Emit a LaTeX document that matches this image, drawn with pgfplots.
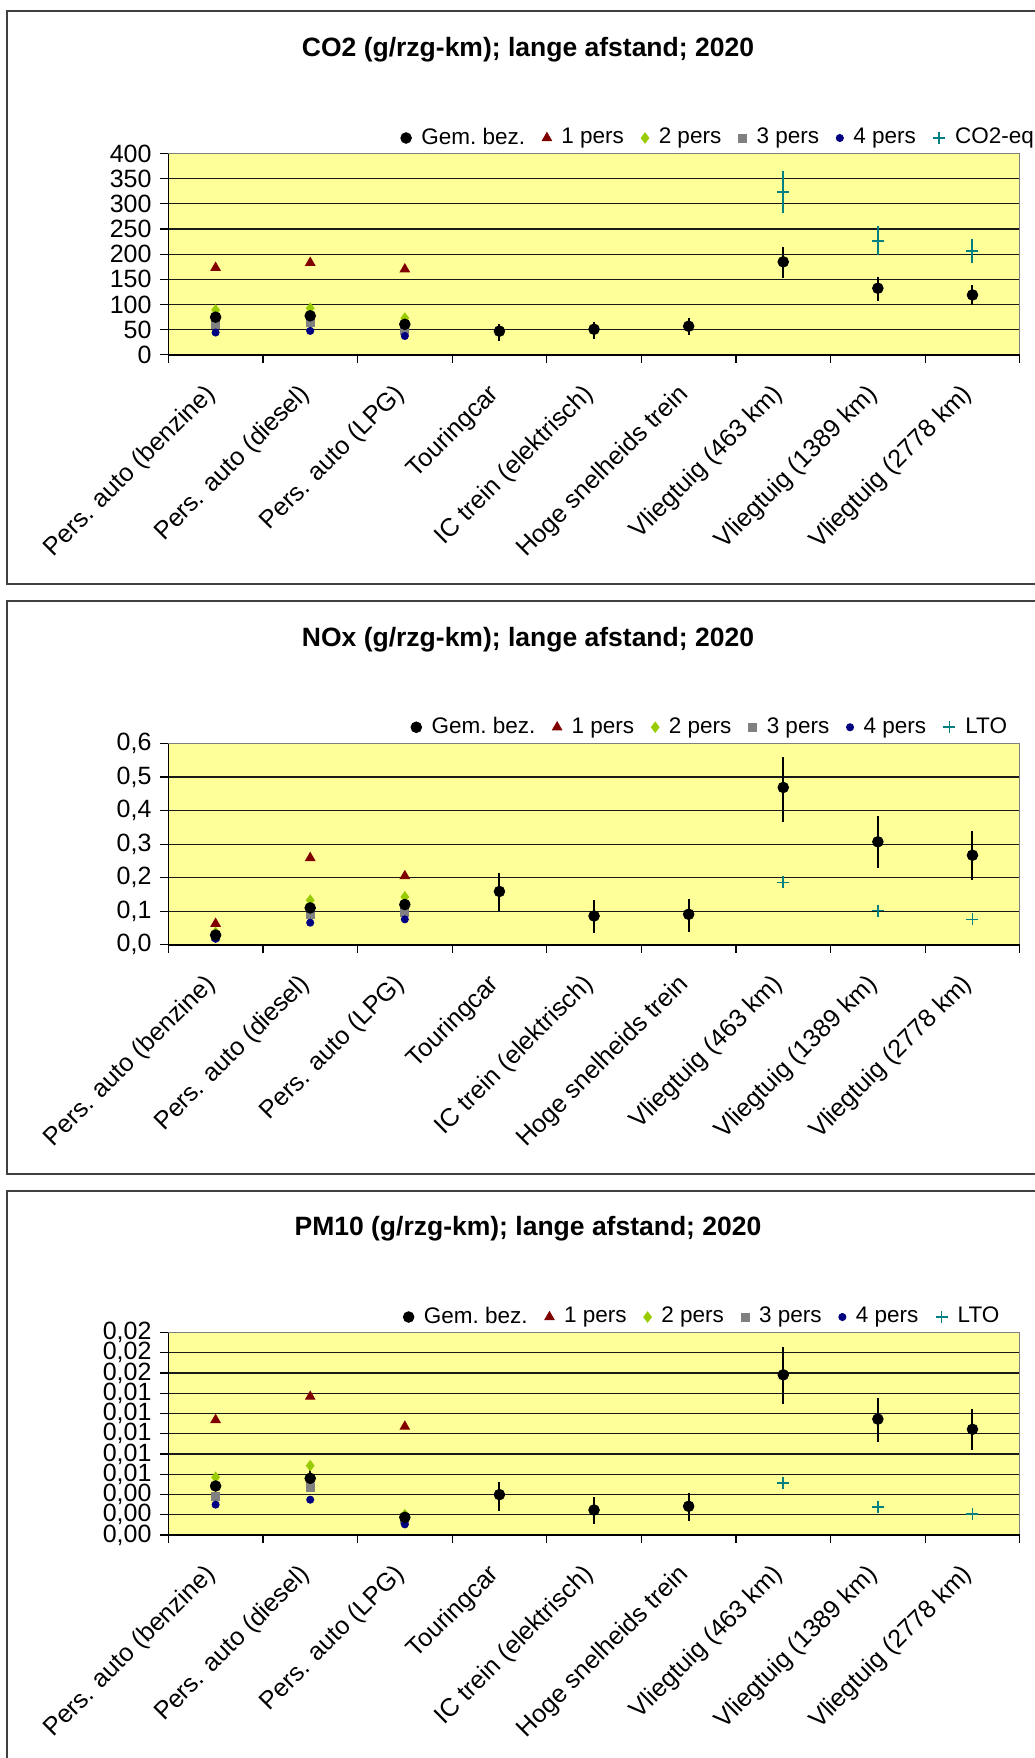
\documentclass[border=0pt]{standalone}
\usepackage{pgfplots}
\pgfplotsset{compat=1.18}
\usepackage{pgfplotstable}
\usepackage{fontspec}
\setmainfont{Liberation Sans}
\definecolor{bgyellow}{HTML}{FFFF99}
\definecolor{pdarkred}{HTML}{800000}
\definecolor{plime}{HTML}{99CC00}
\definecolor{pgray}{HTML}{808080}
\definecolor{pnavy}{HTML}{000080}
\definecolor{pteal}{HTML}{008080}

% ---------------- CO2 ----------------
\pgfplotstableread{
x y ep em
0.5 74.8 0 0
1.5 77.5 0 0
2.5 60.6 0 0
3.5 47 13.5 18.6
4.5 50.8 15 18.8
5.5 56.8 16.2 17.2
6.5 184.7 29.1 31.7
7.5 132.3 21.7 25.3
8.5 118.9 19.4 20.9
}\cotwoGem
\pgfplotstableread{
x y
0.5 173
1.5 183
2.5 170
}\cotwoPa
\pgfplotstableread{
x y
0.5 89
1.5 92.5
2.5 73
}\cotwoPb
\pgfplotstableread{
x y
0.5 61
1.5 63.5
2.5 48.6
}\cotwoPc
\pgfplotstableread{
x y
0.5 44.3
1.5 47.5
2.5 37.4
}\cotwoPd
\pgfplotstableread{
x y ep em
6.5 323.7 41.2 42.7
7.5 226.5 29.2 28.5
8.5 206.4 23.1 24.7
}\cotwoEq

% ---------------- NOx ----------------
\pgfplotstableread{
x y ep em
0.5 0.029 0 0
1.5 0.110 0 0
2.5 0.120 0 0
3.5 0.159 0.054 0.058
4.5 0.086 0.049 0.052
5.5 0.091 0.047 0.054
6.5 0.469 0.092 0.102
7.5 0.307 0.078 0.078
8.5 0.267 0.073 0.073
}\noxGem
\pgfplotstableread{
x y
0.5 0.063
1.5 0.259
2.5 0.205
}\noxPa
\pgfplotstableread{
x y
0.5 0.037
1.5 0.133
2.5 0.143
}\noxPb
\pgfplotstableread{
x y
0.5 0.026
1.5 0.091
2.5 0.096
}\noxPc
\pgfplotstableread{
x y
0.5 0.018
1.5 0.066
2.5 0.076
}\noxPd
\pgfplotstableread{
x y
6.5 0.186
7.5 0.102
8.5 0.076
}\noxLto

% ---------------- PM10 ----------------
\pgfplotstableread{
x y ep em
0.5 0.00484 0.0003 0.0003
1.5 0.0056 0.0008 0.0008
2.5 0.00175 0 0
3.5 0.00399 0.00125 0.00159
4.5 0.00247 0.00128 0.00138
5.5 0.00284 0.00127 0.00146
6.5 0.01582 0.00273 0.00287
7.5 0.01145 0.00208 0.00229
8.5 0.01044 0.00196 0.0020
}\pmGem
\pgfplotstableread{
x y
0.5 0.01137
1.5 0.01367
2.5 0.01071
}\pmPa
\pgfplotstableread{
x y
0.5 0.0057
1.5 0.00685
2.5 0.00201
}\pmPb
\pgfplotstableread{
x y
0.5 0.00382
1.5 0.00465
2.5 0.00158
}\pmPc
\pgfplotstableread{
x y
0.5 0.0030
1.5 0.00349
2.5 0.00105
}\pmPd
\pgfplotstableread{
x y
6.5 0.00513
7.5 0.00276
8.5 0.00207
}\pmLto

\pgfplotsset{
  gem/.style={only marks, mark=*, mark size=2.1pt, color=black, mark options={fill=black}},
  pa/.style={only marks, mark=triangle*, mark size=2.1pt, color=pdarkred},
  pb/.style={only marks, mark=diamond*, mark size=2pt, color=plime},
  pc/.style={only marks, mark=square*, mark size=1.6pt, color=pgray},
  pd/.style={only marks, mark=*, mark size=1.4pt, color=pnavy},
  pl/.style={only marks, mark=+, mark size=2.4pt, color=pteal, mark options={line width=0.65pt}},
  emis/.style={
    scale only axis, width=340.6pt, anchor=south west,
    xmin=0, xmax=9,
    xtick={0.5,1.5,...,8.5},
    xticklabels={Pers. auto (benzine),Pers. auto (diesel),Pers. auto (LPG),Touringcar,IC trein (elektrisch),Hoge snelheids trein,Vliegtuig (463 km),Vliegtuig (1389 km),Vliegtuig (2778 km)},
    minor xtick={0,1,...,9},
    major x tick style={draw=none},
    minor x tick style={black, line width=0.5pt},
    major y tick style={black, line width=0.5pt},
    tick align=outside, tick pos=left,
    major tick length=3.2pt, minor tick length=3.2pt,
    ymajorgrids, major grid style={black!90, line width=0.45pt},
    axis line style={pgray, line width=0.5pt},
    axis background/.style={fill=bgyellow},
    scaled y ticks=false,
    /pgf/number format/assume math mode=true,
    xticklabel style={font=\fontsize{10.1}{12}\selectfont, inner sep=0pt, xshift=-5pt, yshift=-7.5pt, rotate=45, anchor=north east},
    yticklabel style={font=\fontsize{10}{12}\selectfont},
    legend columns=-1,
    legend style={draw=none, fill=none, anchor=west, inner xsep=0pt, inner ysep=1pt,
      font=\fontsize{9}{10.8}\selectfont,
      nodes={inner xsep=2.6pt, inner ysep=1pt},
      /tikz/every odd column/.append style={column sep=1.4pt},
      /tikz/every even column/.append style={column sep=4.3pt}},
    legend image code/.code={\draw[mark repeat=2,mark phase=2,##1] plot coordinates {(0pt,0pt)(3pt,0pt)(6pt,0pt)};},
    clip=false,
  },
  ebar/.style={error bars/.cd, y dir=both, y explicit, error mark=none, error bar style={line width=0.8pt, color=#1}},
}

\begin{document}
\begin{tikzpicture}
\useasboundingbox (0,0) rectangle (414pt,-703.2pt);
\clip (0,0) rectangle (414pt,-703.2pt);

% panel frames
\draw[black!75, line width=0.7pt] (2.7pt,-4.5pt) rectangle (430pt,-233.6pt);
\draw[black!75, line width=0.7pt] (2.7pt,-240.5pt) rectangle (430pt,-469.6pt);
\draw[black!75, line width=0.7pt] (2.7pt,-476.4pt) rectangle (430pt,-730pt);

% titles
\node[font=\bfseries\fontsize{10.6}{12.7}\selectfont] at (211.2pt,-19.7pt) {CO2 (g/rzg-km); lange afstand; 2020};
\node[font=\bfseries\fontsize{10.6}{12.7}\selectfont] at (211.2pt,-255.7pt) {NOx (g/rzg-km); lange afstand; 2020};
\node[font=\bfseries\fontsize{10.6}{12.7}\selectfont] at (211.2pt,-491.6pt) {PM10 (g/rzg-km); lange afstand; 2020};

% ---------- CO2 ----------
\begin{axis}[emis, at={(67.32pt,-141.92pt)}, height=80.52pt,
  ymin=0, ymax=400, ytick={0,50,...,400},
  legend style={at={(0.2725,1)}, yshift=6.2pt}]
\addlegendimage{gem}\addlegendentry{Gem.\ bez.}
\addlegendimage{pa}\addlegendentry{1 pers}
\addlegendimage{pb}\addlegendentry{2 pers}
\addlegendimage{pc}\addlegendentry{3 pers}
\addlegendimage{pd}\addlegendentry{4 pers}
\addlegendimage{pl}\addlegendentry{CO2-eq}
\addplot[pa, forget plot] table[x=x,y=y] {\cotwoPa};
\addplot[pb, forget plot] table[x=x,y=y] {\cotwoPb};
\addplot[pc, forget plot] table[x=x,y=y] {\cotwoPc};
\addplot[pd, forget plot] table[x=x,y=y] {\cotwoPd};
\addplot[pl, forget plot, ebar=pteal] table[x=x,y=y,y error plus=ep,y error minus=em] {\cotwoEq};
\addplot[gem, forget plot, ebar=black] table[x=x,y=y,y error plus=ep,y error minus=em] {\cotwoGem};
\draw[black, line width=0.6pt] (rel axis cs:0,1) -- (rel axis cs:0,0) -- (rel axis cs:1,0);
\end{axis}

% ---------- NOx ----------
\begin{axis}[emis, at={(67.32pt,-377.92pt)}, height=80.52pt,
  ymin=0, ymax=0.6, ytick={0,0.1,0.2,0.3,0.4,0.5,0.6},
  /pgf/number format/fixed, /pgf/number format/fixed zerofill,
  /pgf/number format/precision=1, /pgf/number format/use comma,
  legend style={at={(0.2845,1)}, yshift=6.5pt}]
\addlegendimage{gem}\addlegendentry{Gem.\ bez.}
\addlegendimage{pa}\addlegendentry{1 pers}
\addlegendimage{pb}\addlegendentry{2 pers}
\addlegendimage{pc}\addlegendentry{3 pers}
\addlegendimage{pd}\addlegendentry{4 pers}
\addlegendimage{pl}\addlegendentry{LTO}
\addplot[pa, forget plot] table[x=x,y=y] {\noxPa};
\addplot[pb, forget plot] table[x=x,y=y] {\noxPb};
\addplot[pc, forget plot] table[x=x,y=y] {\noxPc};
\addplot[pd, forget plot] table[x=x,y=y] {\noxPd};
\addplot[pl, forget plot] table[x=x,y=y] {\noxLto};
\addplot[gem, forget plot, ebar=black] table[x=x,y=y,y error plus=ep,y error minus=em] {\noxGem};
\draw[black, line width=0.6pt] (rel axis cs:0,1) -- (rel axis cs:0,0) -- (rel axis cs:1,0);
\end{axis}

% ---------- PM10 ----------
\begin{axis}[emis, at={(67.32pt,-614pt)}, height=81pt,
  ymin=0, ymax=0.02, ytick={0,0.002,0.004,0.006,0.008,0.01,0.012,0.014,0.016,0.018,0.02},
  /pgf/number format/fixed, /pgf/number format/fixed zerofill,
  /pgf/number format/precision=2, /pgf/number format/use comma,
  legend style={at={(0.2755,1)}, yshift=6.2pt}]
\addlegendimage{gem}\addlegendentry{Gem.\ bez.}
\addlegendimage{pa}\addlegendentry{1 pers}
\addlegendimage{pb}\addlegendentry{2 pers}
\addlegendimage{pc}\addlegendentry{3 pers}
\addlegendimage{pd}\addlegendentry{4 pers}
\addlegendimage{pl}\addlegendentry{LTO}
\addplot[pa, forget plot] table[x=x,y=y] {\pmPa};
\addplot[pb, forget plot] table[x=x,y=y] {\pmPb};
\addplot[pc, forget plot] table[x=x,y=y] {\pmPc};
\addplot[pd, forget plot] table[x=x,y=y] {\pmPd};
\addplot[pl, forget plot] table[x=x,y=y] {\pmLto};
\addplot[gem, forget plot, ebar=black] table[x=x,y=y,y error plus=ep,y error minus=em] {\pmGem};
\draw[black, line width=0.6pt] (rel axis cs:0,1) -- (rel axis cs:0,0) -- (rel axis cs:1,0);
\end{axis}
\end{tikzpicture}
\end{document}
